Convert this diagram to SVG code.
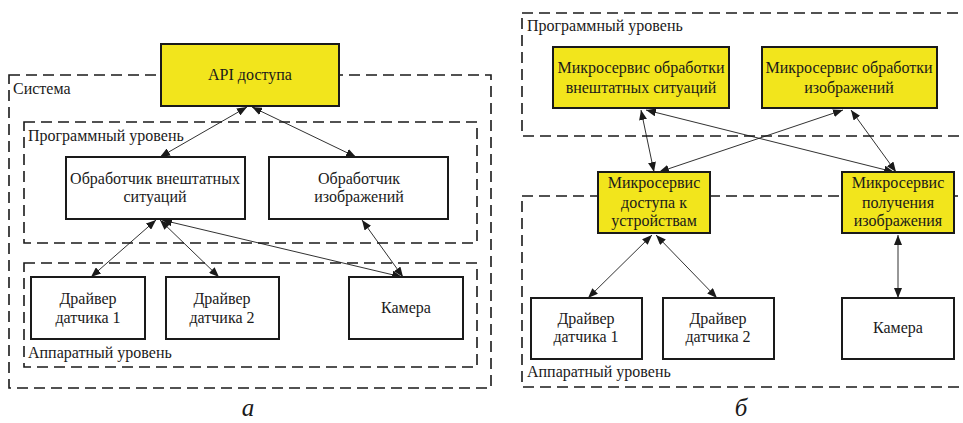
<svg xmlns="http://www.w3.org/2000/svg" width="963" height="423" viewBox="0 0 963 423">
  <style>
    .zone { fill: none; stroke: #1a1a1a; stroke-width: 1.6; stroke-dasharray: 11 6; }
    .box { fill: #ffffff; stroke: #1a1a1a; stroke-width: 2; }
    .ybox { fill: #f2e51c; stroke: #1a1a1a; stroke-width: 2; }
    .t { font-family: 'Liberation Serif', 'DejaVu Serif', serif; font-size: 16px; fill: #1a1a1a; }
    .c { text-anchor: middle; }
    .cap { font-family: 'Liberation Serif', 'DejaVu Serif', serif; font-size: 25px; font-style: italic; fill: #1a1a1a; text-anchor: middle; }
    .link { stroke: #1a1a1a; stroke-width: 0.9; fill: none; marker-start: url(#ah); marker-end: url(#ah); }
  </style>
  <defs>
    <marker id="ah" markerUnits="userSpaceOnUse" markerWidth="10" markerHeight="8" refX="10" refY="4" orient="auto-start-reverse">
      <path d="M0,0 L10,4 L0,8 Z" fill="#1a1a1a"/>
    </marker>
  </defs>
  <rect width="963" height="423" fill="#ffffff"/>

  <!-- ===== Variant a: monolithic system ===== -->
  <g id="a-system">
    <rect class="zone" x="9" y="75" width="482" height="313"/>
    <text class="t" x="13" y="94">Система</text>
  </g>
  <g id="a-software-level">
    <rect class="zone" x="24" y="122" width="453" height="121"/>
    <text class="t" x="28" y="141">Программный уровень</text>
  </g>
  <g id="a-hardware-level">
    <rect class="zone" x="24" y="263" width="453" height="104"/>
    <text class="t" x="28" y="358">Аппаратный уровень</text>
  </g>

  <g id="a-links">
    <line class="link" x1="247" y1="107" x2="160" y2="157"/>
    <line class="link" x1="252" y1="107" x2="356" y2="157"/>
    <line class="link" x1="156" y1="220" x2="91" y2="277"/>
    <line class="link" x1="160" y1="220" x2="219" y2="277"/>
    <line class="link" x1="162" y1="220" x2="402" y2="277"/>
    <line class="link" x1="362" y1="220" x2="403" y2="277"/>
  </g>

  <g id="a-api">
    <rect class="ybox" x="161" y="44" width="178" height="62"/>
    <text class="t c" x="250" y="80">API доступа</text>
  </g>
  <g id="a-fault-handler">
    <rect class="box" x="66" y="157" width="179" height="62"/>
    <text class="t c" x="155" y="184">Обработчик внештатных</text>
    <text class="t c" x="155" y="202">ситуаций</text>
  </g>
  <g id="a-image-handler">
    <rect class="box" x="269" y="157" width="179" height="62"/>
    <text class="t c" x="359" y="184">Обработчик</text>
    <text class="t c" x="359" y="202">изображений</text>
  </g>
  <g id="a-driver1">
    <rect class="box" x="31" y="277" width="114" height="62"/>
    <text class="t c" x="88" y="304">Драйвер</text>
    <text class="t c" x="88" y="323">датчика 1</text>
  </g>
  <g id="a-driver2">
    <rect class="box" x="166" y="277" width="113" height="62"/>
    <text class="t c" x="222" y="304">Драйвер</text>
    <text class="t c" x="222" y="323">датчика 2</text>
  </g>
  <g id="a-camera">
    <rect class="box" x="349" y="277" width="114" height="62"/>
    <text class="t c" x="406" y="313">Камера</text>
  </g>
  <text class="cap" x="248" y="416">а</text>

  <!-- ===== Variant б: microservices ===== -->
  <g id="b-software-level">
    <rect class="zone" x="522" y="13" width="480" height="123"/>
    <text class="t" x="527" y="31">Программный уровень</text>
  </g>
  <g id="b-hardware-level">
    <rect class="zone" x="522" y="196" width="480" height="191"/>
    <text class="t" x="527" y="377">Аппаратный уровень</text>
  </g>

  <g id="b-links">
    <line class="link" x1="641" y1="110" x2="654" y2="172"/>
    <line class="link" x1="646" y1="110" x2="894" y2="172"/>
    <line class="link" x1="843" y1="110" x2="659" y2="172"/>
    <line class="link" x1="851" y1="110" x2="896" y2="172"/>
    <line class="link" x1="652" y1="235" x2="588" y2="298"/>
    <line class="link" x1="656" y1="235" x2="717" y2="298"/>
    <line class="link" x1="898" y1="235" x2="898" y2="298"/>
  </g>

  <g id="b-fault-service">
    <rect class="ybox" x="553" y="47" width="176" height="61"/>
    <text class="t c" x="641" y="73">Микросервис обработки</text>
    <text class="t c" x="641" y="93">внештатных ситуаций</text>
  </g>
  <g id="b-image-service">
    <rect class="ybox" x="762" y="47" width="175" height="61"/>
    <text class="t c" x="849" y="73">Микросервис обработки</text>
    <text class="t c" x="849" y="93">изображений</text>
  </g>
  <g id="b-device-service">
    <rect class="ybox" x="598" y="172" width="112" height="61"/>
    <text class="t c" x="654" y="188">Микросервис</text>
    <text class="t c" x="654" y="208">доступа к</text>
    <text class="t c" x="654" y="226">устройствам</text>
  </g>
  <g id="b-capture-service">
    <rect class="ybox" x="842" y="172" width="112" height="61"/>
    <text class="t c" x="898" y="188">Микросервис</text>
    <text class="t c" x="898" y="208">получения</text>
    <text class="t c" x="898" y="226">изображения</text>
  </g>
  <g id="b-driver1">
    <rect class="box" x="531" y="298" width="111" height="61"/>
    <text class="t c" x="586" y="324">Драйвер</text>
    <text class="t c" x="586" y="342">датчика 1</text>
  </g>
  <g id="b-driver2">
    <rect class="box" x="663" y="298" width="111" height="61"/>
    <text class="t c" x="718" y="324">Драйвер</text>
    <text class="t c" x="718" y="342">датчика 2</text>
  </g>
  <g id="b-camera">
    <rect class="box" x="842" y="298" width="112" height="61"/>
    <text class="t c" x="898" y="333">Камера</text>
  </g>
  <text class="cap" x="741" y="416">б</text>
</svg>
